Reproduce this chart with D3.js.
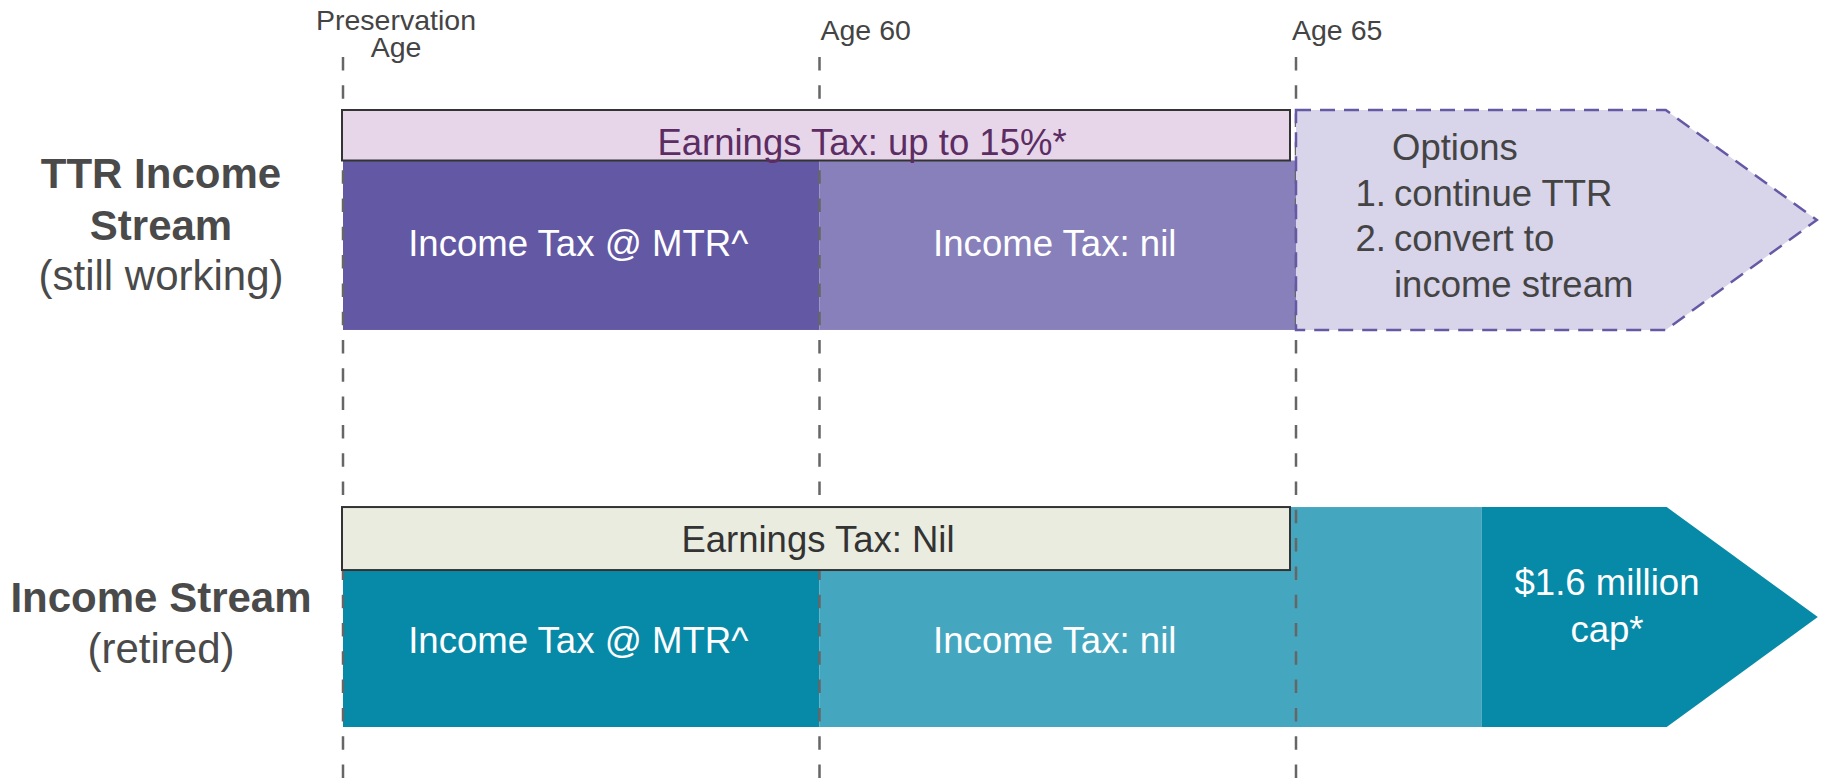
<!DOCTYPE html>
<html>
<head>
<meta charset="utf-8">
<title>TTR vs Income Stream</title>
<script src="https://cdn.jsdelivr.net/npm/d3@7"></script>
<style>
  body { margin: 0; background: #fff; }
  svg text { font-family: "Liberation Sans", Arial, Helvetica, sans-serif; }
</style>
</head>
<body>
<div class="chart"></div>
<script>
// milestones along the time axis (index = stage)
var milestones = [["Preservation", "Age"], ["Age 60"], ["Age 65"]];

// the two rows
var streams = ["ttr", "retired"];
var streamTitles = [["TTR Income", "Stream"], ["Income Stream"]];
var streamSubtitles = ["(still working)", "(retired)"];

// earnings tax bar per row
var earningsLabels = ["Earnings Tax: up to 15%*", "Earnings Tax: Nil"];

// income tax segments, from/to in stage units
var ttrSegments = [
  { from: 0, to: 1, label: "Income Tax @ MTR^", tone: "dark" },
  { from: 1, to: 2, label: "Income Tax: nil", tone: "light" }
];
var retiredSegments = [
  { from: 0, to: 1, label: "Income Tax @ MTR^", tone: "dark" },
  { from: 1, to: 2.39, label: "", tone: "light" }
];
var retiredLabels = [
  { from: 0, to: 1, label: "Income Tax @ MTR^" },
  { from: 1, to: 2, label: "Income Tax: nil" }
];

// what happens after age 65
var optionsHead = "Options";
var optionsList = ["continue TTR", "convert to", "income stream"];
var optionsNums = ["1.", "2.", ""];
var capLabel = ["$1.6 million", "cap*"];

var width = 1825, height = 779;

var svg = d3.select(".chart").append("svg")
  .attr("width", width)
  .attr("height", height);

var x = d3.scaleLinear().domain([0, 2]).range([343, 1296]);
var y = d3.scaleBand().domain(streams).range([110, 727]).paddingInner(0.446);

var arrowShoulder = 2.778, arrowTip = 3.093;
var earnH = { ttr: 50.5, retired: 63 };

var colors = {
  ttr: { dark: "#6358a4", light: "#8880ba", earn: "#e7d6ea", earnText: "#5c2d62", opt: "#d8d4ea", optLine: "#6459a5" },
  retired: { dark: "#078aa8", light: "#44a7bf", earn: "#eaece0", earnText: "#333333" }
};

// ---- income tax bars
var ttrTop = y("ttr") + earnH.ttr, ttrBot = y("ttr") + y.bandwidth();
svg.append("g").selectAll("rect")
  .data(ttrSegments).enter().append("rect")
  .attr("x", function(d) { return x(d.from); })
  .attr("y", ttrTop)
  .attr("width", function(d) { return x(d.to) - x(d.from); })
  .attr("height", ttrBot - ttrTop)
  .attr("fill", function(d) { return colors.ttr[d.tone]; });

var rTop = y("retired"), rBot = y("retired") + y.bandwidth();
svg.append("g").selectAll("rect")
  .data(retiredSegments).enter().append("rect")
  .attr("x", function(d) { return x(d.from); })
  .attr("y", rTop)
  .attr("width", function(d) { return x(d.to) - x(d.from); })
  .attr("height", rBot - rTop)
  .attr("fill", function(d) { return colors.retired[d.tone]; });

// $1.6m cap arrow
var capStart = retiredSegments[1].to;
var rMid = (rTop + rBot) / 2;
svg.append("path")
  .attr("d", d3.line()([
    [x(capStart), rTop], [x(arrowShoulder), rTop], [x(arrowTip) + 1, rMid],
    [x(arrowShoulder), rBot], [x(capStart), rBot]
  ]) + "Z")
  .attr("fill", colors.retired.dark);

// ---- dashed milestone lines
svg.append("g").selectAll("line")
  .data(milestones).enter().append("line")
  .attr("x1", function(d, i) { return x(i); })
  .attr("x2", function(d, i) { return x(i); })
  .attr("y1", 57).attr("y2", height)
  .attr("stroke", "#666")
  .attr("stroke-width", 2.5)
  .attr("stroke-dasharray", "13.5 14.8");

// ---- options arrow (TTR row)
var tTop = y("ttr"), tMid = (ttrTop + ttrBot) / 2 - earnH.ttr / 2;
svg.append("path")
  .attr("d", d3.line()([
    [x(2), tTop], [x(arrowShoulder) - 1, tTop], [x(arrowTip), tMid],
    [x(arrowShoulder) - 1, ttrBot], [x(2), ttrBot]
  ]) + "Z")
  .attr("fill", colors.ttr.opt)
  .attr("stroke", colors.ttr.optLine)
  .attr("stroke-width", 2.5)
  .attr("stroke-dasharray", "15 9");

// ---- earnings tax boxes
svg.append("g").selectAll("rect")
  .data(streams).enter().append("rect")
  .attr("x", x(0) - 1)
  .attr("y", function(d) { return y(d); })
  .attr("width", x(2) - x(0) - 5)
  .attr("height", function(d) { return earnH[d]; })
  .attr("fill", function(d) { return colors[d].earn; })
  .attr("stroke", "#333")
  .attr("stroke-width", 2);

var earnPos = { ttr: [862, 155], retired: [818, 552] };
svg.append("g").selectAll("text")
  .data(streams).enter().append("text")
  .attr("x", function(d) { return earnPos[d][0]; })
  .attr("y", function(d) { return earnPos[d][1]; })
  .attr("text-anchor", "middle")
  .attr("font-size", 36.5)
  .attr("fill", function(d) { return colors[d].earnText; })
  .text(function(d, i) { return earningsLabels[i]; });

// ---- segment labels
svg.append("g").selectAll("text")
  .data(ttrSegments).enter().append("text")
  .attr("x", function(d) { return (x(d.from) + x(d.to)) / 2 - 3; })
  .attr("y", 256)
  .attr("text-anchor", "middle")
  .attr("font-size", 36.6)
  .attr("fill", "#fff")
  .text(function(d) { return d.label; });

svg.append("g").selectAll("text")
  .data(retiredLabels)
  .enter().append("text")
  .attr("x", function(d) { return (x(d.from) + x(d.to)) / 2 - 3; })
  .attr("y", 653)
  .attr("text-anchor", "middle")
  .attr("font-size", 36.6)
  .attr("fill", "#fff")
  .text(function(d) { return d.label; });

svg.append("g").selectAll("text")
  .data(capLabel).enter().append("text")
  .attr("x", 1607)
  .attr("y", function(d, i) { return 595 + i * 47; })
  .attr("text-anchor", "middle")
  .attr("font-size", 36.6)
  .attr("fill", "#fff")
  .text(function(d) { return d; });

// ---- options text
var opt = svg.append("g").attr("fill", "#444").attr("font-size", 36.5);
opt.append("text").attr("x", 1392).attr("y", 160).text(optionsHead);
opt.selectAll("text.item")
  .data(optionsList).enter().append("text")
  .attr("class", "item")
  .attr("x", 1394)
  .attr("y", function(d, i) { return 205.5 + i * 45.5; })
  .text(function(d) { return d; });
opt.selectAll("text.num")
  .data(optionsNums).enter().append("text")
  .attr("class", "num")
  .attr("x", 1386)
  .attr("text-anchor", "end")
  .attr("y", function(d, i) { return 205.5 + i * 45.5; })
  .text(function(d) { return d; });

// ---- milestone labels
var ml = svg.append("g").attr("fill", "#444").attr("font-size", 28.5);
ml.append("text")
  .attr("x", x(0) + 53).attr("text-anchor", "middle")
  .selectAll("tspan")
  .data(milestones[0]).enter().append("tspan")
  .attr("x", x(0) + 53)
  .attr("y", function(d, i) { return 30 + i * 27; })
  .text(function(d) { return d; });
ml.selectAll("text.age")
  .data(milestones.slice(1)).enter().append("text")
  .attr("class", "age")
  .attr("x", function(d, i) { return x(i + 1) + (i === 0 ? 1 : -4); })
  .attr("y", 40)
  .text(function(d) { return d[0]; });

// ---- row titles
var rt = svg.append("g").attr("fill", "#4a4a4a").attr("text-anchor", "middle");
var titleBase = { ttr: 188, retired: 612 };
streams.forEach(function(s, i) {
  streamTitles[i].forEach(function(t, j) {
    rt.append("text")
      .attr("x", 161)
      .attr("y", titleBase[s] + j * 52)
      .attr("font-size", 42)
      .attr("font-weight", "bold")
      .text(t);
  });
  rt.append("text")
    .attr("x", 161)
    .attr("y", titleBase[s] + streamTitles[i].length * 51)
    .attr("font-size", 42)
    .text(streamSubtitles[i]);
});
</script>
</body>
</html>
